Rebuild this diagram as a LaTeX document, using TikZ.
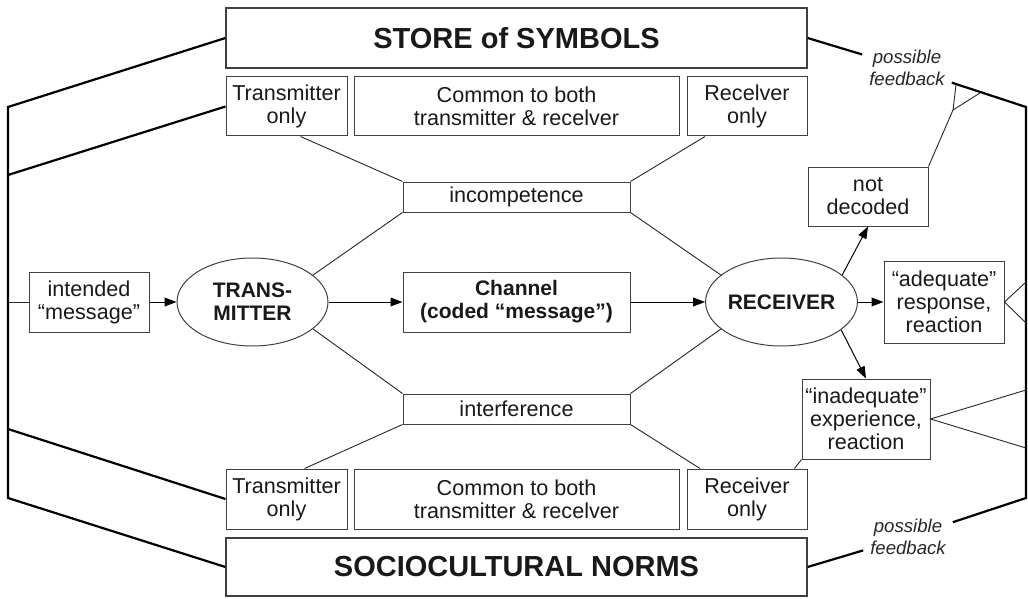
\documentclass[tikz,border=0pt]{standalone}
\usepackage{fontspec}
\setmainfont{Liberation Sans}
\usepackage{tikz}
\usetikzlibrary{arrows.meta,calc,shapes.geometric}

\begin{document}
\begin{tikzpicture}[
  x=0.5pt, y=-0.5pt,
  box/.style={draw=black!75, line width=0.5pt, align=center, text=black!90, inner sep=1pt, font=\fontsize{10.8}{11.5}\selectfont},
  bigbox/.style={box, line width=0.6pt, font=\fontsize{14.5}{16}\selectfont\bfseries},
  oval/.style={ellipse, draw=black!75, line width=0.5pt, minimum width=75.5pt, minimum height=44pt, inner sep=0pt, align=center, text=black!90, font=\fontsize{10.5}{11.5}\selectfont\bfseries},
  arr/.style={-{Triangle[length=6pt,width=4.4pt]}, line width=0.5pt},
  link/.style={line width=0.45pt, draw=black!85},
  fb/.style={line width=1.1pt},
  note/.style={font=\fontsize{9.3}{11}\selectfont\itshape, align=center, text=black!85}
]
  \useasboundingbox (0,0) rectangle (1028,599);

  % top: store of symbols
  \node[bigbox, minimum width=290.5pt, minimum height=30pt] (store) at (516.5,38) {STORE of SYMBOLS};
  \node[box, minimum width=60.5pt, minimum height=29.5pt] (ttonly) at (286.5,106.5) {Transmitter\\only};
  \node[box, minimum width=162.5pt, minimum height=29.5pt] (tcommon) at (516.5,106.5) {Common to both\\transmitter \& recelver};
  \node[box, minimum width=60pt, minimum height=29.5pt] (tronly) at (747,106.5) {Recelver\\only};
  \node[box, minimum width=113.5pt, minimum height=15pt] (incomp) at (516.5,197) {incompetence};

  % middle row
  \node[box, minimum width=60pt, minimum height=30pt] (intended) at (89,302) {intended\\“message”};
  \node[oval] (trans) at (252.5,302) {TRANS-\\MITTER};
  \node[box, font=\fontsize{10.5}{11.5}\selectfont\bfseries, minimum width=113.5pt, minimum height=30pt] (channel) at (516.5,302) {Channel\\(coded “message”)};
  \node[oval] (recv) at (781.5,302) {RECEIVER};
  \node[box, minimum width=60pt, minimum height=29.5pt] (notdec) at (868,196.5) {not\\decoded};
  \node[box, minimum width=60pt, minimum height=41pt] (adeq) at (944,302) {“adequate”\\response,\\reaction};
  \node[box, minimum width=64pt, minimum height=40pt] (inadeq) at (866,419) {“inadequate”\\experience,\\reaction};

  % bottom: sociocultural norms
  \node[box, minimum width=113.5pt, minimum height=15pt] (interf) at (516.5,409) {interference};
  \node[box, minimum width=60.5pt, minimum height=30pt] (btonly) at (286.5,499) {Transmitter\\only};
  \node[box, minimum width=162.5pt, minimum height=30pt] (bcommon) at (516.5,499) {Common to both\\transmitter \& recelver};
  \node[box, minimum width=60pt, minimum height=30pt] (bronly) at (747,499) {Receiver\\only};
  \node[bigbox, minimum width=290.5pt, minimum height=29pt] (norms) at (516.5,567) {SOCIOCULTURAL NORMS};

  \node[note] (fbtop) at (907,68) {possible\\feedback};
  \node[note] (fbbot) at (908,537) {possible\\feedback};

  \coordinate (lt) at (8,107);
  \coordinate (lb) at (8,498);
  \coordinate (lm) at (8,175);
  \coordinate (lm2) at (8,429);
  \coordinate (rt) at (1026,107);
  \coordinate (rb) at (1026,498);
  \coordinate (fk) at (953,110);
  \coordinate (fk1) at (956,85);
  \coordinate (fk2) at (980,93);
  \coordinate (ra1) at (1026,282);
  \coordinate (ra2) at (1026,323);
  \coordinate (ri1) at (1026,390);
  \coordinate (ri2) at (1026,448);

  % frame
  \draw[fb] (store.west) -- (lt) -- (lb) -- (norms.west);
  \draw[fb] (ttonly.west) -- (lm);
  \draw[fb] (btonly.west) -- (lm2);
  \draw[fb] (store.east) -- (fbtop) -- (rt) -- (rb) -- (fbbot) -- (norms.east);

  % feedback links
  \draw[link] (intended.west) -- (intended.west -| lt);
  \draw[link] (fk1) -- (fk) -- (fk2);
  \draw[link] (fk) -- (notdec.north east);
  \draw[link] (ra1) -- (adeq.east) -- (ra2);
  \draw[link] (ri1) -- (inadeq.east) -- (ri2);
  \draw[link] (inadeq.south west) -- ($(bronly.north east)+(-13,0)$);

  % main flow
  \draw[arr] (intended) -- (trans);
  \draw[arr] (trans) -- (channel);
  \draw[arr] (channel) -- (recv);
  \draw[arr] (recv) -- (adeq);
  \draw[arr] (recv.24) -- (notdec.south);
  \draw[arr] (recv.-25) -- (inadeq.north);

  \draw[link] ($(ttonly.south)+(14,0)$) -- (incomp.north west);
  \draw[link] (trans.24) -- (incomp.south west);
  \draw[link] ($(tronly.south)+(-42,0)$) -- (incomp.north east);
  \draw[link] (recv.156) -- (incomp.south east);
  \draw[link] (trans.-24) -- (interf.north west);
  \draw[link] ($(btonly.north)+(18,0)$) -- (interf.south west);
  \draw[link] (recv.204) -- (interf.north east);
  \draw[link] ($(bronly.north)+(-47,0)$) -- (interf.south east);
\end{tikzpicture}
\end{document}
